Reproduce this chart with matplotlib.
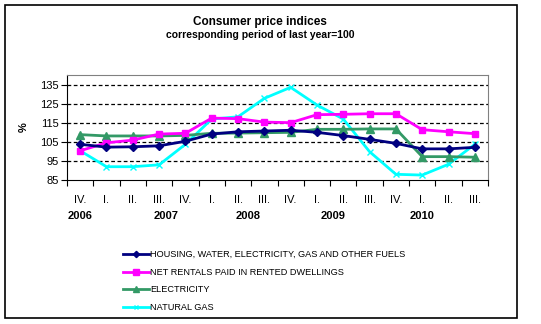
import matplotlib
matplotlib.use("Agg")
import matplotlib.pyplot as plt
from matplotlib.patches import Rectangle
import matplotlib.transforms as mtransforms

plt.rcParams['font.family'] = ['Liberation Sans', 'DejaVu Sans']

quarters = ["IV.", "I.", "II.", "III.", "IV.", "I.", "II.", "III.",
            "IV.", "I.", "II.", "III.", "IV.", "I.", "II.", "III."]
years = ["2006", "2007", "2008", "2009", "2010"]
year_pos = [0, 3.25, 6.4, 9.6, 13.0]

housing = [103.8, 102.3, 102.5, 103.0, 105.4, 109.2, 110.4, 110.8,
           111.2, 110.1, 108.4, 106.4, 104.3, 101.4, 101.4, 102.2]
rentals = [100.4, 104.6, 106.0, 109.2, 109.6, 117.6, 117.3, 115.5,
           115.2, 119.4, 119.6, 119.9, 119.9, 111.5, 110.4, 109.4]
electricity = [108.9, 108.2, 108.2, 108.2, 108.5, 109.6, 109.7, 109.9,
               110.1, 111.7, 111.7, 111.9, 111.9, 97.3, 97.3, 97.0]
natural_gas = [100.4, 92.0, 92.0, 93.0, 103.8, 117.1, 118.3, 128.0,
               133.8, 124.5, 117.1, 99.9, 88.0, 87.6, 93.3, 103.8]

labels = ["HOUSING, WATER, ELECTRICITY, GAS AND OTHER FUELS",
          "NET RENTALS PAID IN RENTED DWELLINGS",
          "ELECTRICITY",
          "NATURAL GAS"]

fig = plt.figure(figsize=(5.41, 3.24), dpi=100)
ax = fig.add_axes([67/541, 1 - 180/324, (488-67)/541, (180-75)/324])

x = list(range(len(quarters)))
ax.plot(x, housing, color="#000080", lw=2, marker="D", ms=4, label=labels[0], zorder=5)
ax.plot(x, rentals, color="#FF00FF", lw=2, marker="s", ms=5, label=labels[1], zorder=4)
ax.plot(x, electricity, color="#339966", lw=2, marker="^", ms=5.5, label=labels[2], zorder=3)
ax.plot(x, natural_gas, color="#00FFFF", lw=2, marker="x", ms=4, mew=1, label=labels[3], zorder=2)

ax.set_xlim(-0.5, len(quarters) - 0.5)
ax.set_ylim(85, 140.3)
ax.set_yticks([85, 95, 105, 115, 125, 135])
for v in [95, 105, 115, 125, 135]:
    ax.axhline(v, color="black", lw=0.9, ls=(0, (3, 2)), zorder=1)

ax.set_xticks([i - 0.5 for i in range(len(quarters) + 1)])
ax.set_xticklabels([])
ax.set_xticks(x, minor=True)
ax.set_xticklabels(quarters, minor=True)
ax.tick_params(axis="x", which="major", direction="out", length=4, width=0.8)
ax.tick_params(axis="x", which="minor", length=0, pad=11, labelsize=8)
ax.tick_params(axis="y", direction="out", length=4, width=0.8, labelsize=8, pad=2)

ax.spines["top"].set_color("#808080")
ax.spines["right"].set_color("#808080")

trans = mtransforms.blended_transform_factory(ax.transData, fig.transFigure)
for yr, p in zip(years, year_pos):
    ax.text(p, 1 - 216/324, yr, transform=trans, ha="center", va="center",
            fontsize=8, fontweight="bold")

ax.set_ylabel("%", fontsize=8, fontweight="bold", labelpad=8)

fig.text(260/541, 1 - 22/324, "Consumer price indices", ha="center", va="center",
         fontsize=8.5, fontweight="bold")
fig.text(260/541, 1 - 35/324, "corresponding period of last year=100", ha="center",
         va="center", fontsize=7.5, fontweight="bold")

fig.legend(loc="upper left", bbox_to_anchor=(123/541, 1 - 250/324), frameon=False,
           fontsize=6.6, handlelength=2.8, handletextpad=0.2, labelspacing=0.95,
           borderpad=0, borderaxespad=0, markerscale=0.8)

fig.patches.append(Rectangle((5/541, 1 - 318/324), 512/541, 313/324,
                             transform=fig.transFigure, fill=False,
                             edgecolor="black", lw=1.2))

fig.savefig("out.png", dpi=100)
